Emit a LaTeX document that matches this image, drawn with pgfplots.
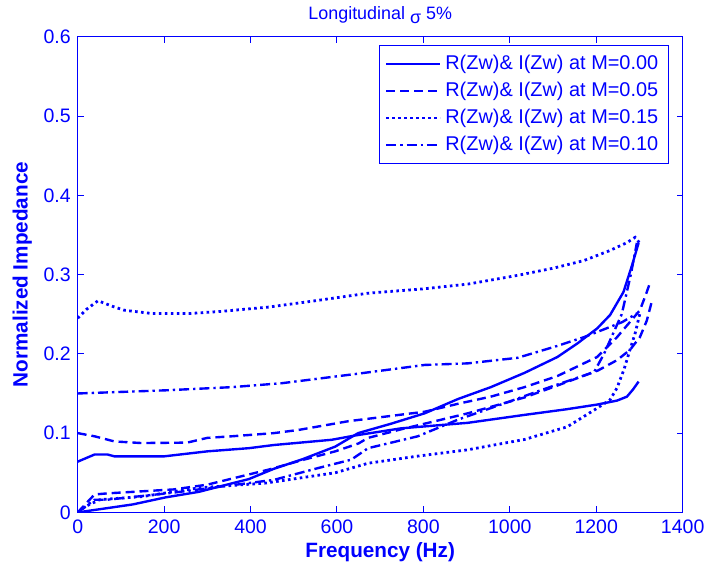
\documentclass[border=0pt]{standalone}
\usepackage{pgfplots}
\pgfplotsset{compat=1.18}
\usepackage{fontspec}
\setmainfont{Liberation Sans}
\definecolor{mblue}{RGB}{0,0,255}

\begin{document}
\begin{tikzpicture}
  \begin{axis}[
    scale only axis,
    width=304pt, height=239pt,
    xmin=0, xmax=1400, ymin=0, ymax=0.6,
    xtick={0,200,...,1400},
    ytick={0,0.1,...,0.6},
    tick align=inside,
    major tick length=3pt,
    axis line style={mblue, line width=0.7pt},
    every tick/.style={mblue, line width=0.5pt},
    ticklabel style={font=\fontsize{9.8}{10}\selectfont, text=mblue},
    /pgf/number format/assume math mode=true,
    /pgf/number format/fixed,
    /pgf/number format/1000 sep={},
    xlabel={\textbf{Frequency (Hz)}},
    ylabel={\textbf{Normalized Impedance}},
    label style={font=\fontsize{10.4}{11}\selectfont, text=mblue},
    xlabel style={yshift=2pt},
    ylabel style={yshift=-1pt},
    title={Longitudinal \raisebox{-2pt}{σ} 5\%},
    title style={font=\fontsize{9}{9}\selectfont, text=mblue, yshift=-3pt},
    legend style={at={(0.977,0.983)}, anchor=north east, draw=mblue, line width=0.6pt,
      font=\fontsize{10}{11}\selectfont, text=mblue, row sep=0.8pt, inner sep=3pt},
    legend cell align=left,
    legend image code/.code={\draw[#1, line width=1.3pt] (0pt,0pt) -- (27pt,0pt);},
    every axis plot/.append style={mblue, line width=1.2pt},
  ]
  % M = 0.00
  \addplot[solid] table {
0 0.064
39 0.073
69 0.073
85 0.0707
200 0.0707
300 0.077
396 0.081
454 0.085
588 0.0916
642 0.097
748 0.106
903 0.113
1034 0.123
1130 0.130
1202 0.136
1248 0.141
1271 0.146
1285 0.155
1298 0.165
};
  \addlegendentry{R(Zw)\& I(Zw) at M=0.00}
  % M = 0.05
  \addplot[dash pattern=on 4.5pt off 2.5pt] table {
0 0.100
39 0.096
85 0.0895
147 0.0875
253 0.088
300 0.094
357 0.096
454 0.100
511 0.104
626 0.115
700 0.120
803 0.127
880 0.137
956 0.146
1034 0.158
1110 0.172
1202 0.196
1248 0.221
1287 0.246
1301 0.255
1315 0.275
1324 0.289
};
  \addlegendentry{R(Zw)\& I(Zw) at M=0.05}
  % M = 0.15
  \addplot[dash pattern=on 1.3pt off 1.7pt, line width=1.4pt] table {
0 0.245
20 0.256
47 0.267
80 0.260
108 0.255
170 0.251
262 0.251
331 0.2535
442 0.259
550 0.267
672 0.2765
800 0.282
903 0.288
1018 0.299
1100 0.308
1171 0.3176
1230 0.330
1270 0.340
1290 0.347
1300 0.340
};
  \addlegendentry{R(Zw)\& I(Zw) at M=0.15}
  % M = 0.10
  \addplot[dash pattern=on 5pt off 2pt on 1.2pt off 2pt] table {
0 0.150
51 0.151
204 0.154
357 0.158
473 0.163
649 0.175
803 0.186
903 0.188
1018 0.195
1110 0.210
1171 0.221
1202 0.2275
1260 0.240
1294 0.251
};
  \addlegendentry{R(Zw)\& I(Zw) at M=0.10}
  % imaginary parts
  \addplot[solid, forget plot] table {
0 0
51 0.004
127 0.010
204 0.019
281 0.026
338 0.034
396 0.042
454 0.055
520 0.067
596 0.083
649 0.100
726 0.112
803 0.125
880 0.143
956 0.158
1034 0.176
1110 0.196
1156 0.213
1202 0.232
1232 0.249
1263 0.278
1283 0.312
1298 0.340
};
  \addplot[dash pattern=on 4.5pt off 2.5pt, forget plot] table {
0 0
39 0.0226
69 0.024
223 0.029
300 0.035
442 0.054
520 0.066
596 0.077
650 0.087
672 0.094
750 0.105
903 0.125
1034 0.145
1110 0.160
1204 0.179
1248 0.192
1278 0.205
1301 0.221
1317 0.242
1329 0.267
};
  \addplot[dash pattern=on 1.3pt off 1.7pt, line width=1.4pt, forget plot] table {
0 0
20 0.008
51 0.016
150 0.020
281 0.031
435 0.037
596 0.050
672 0.062
787 0.071
903 0.079
1034 0.092
1133 0.108
1195 0.129
1232 0.142
1248 0.157
1264 0.180
1278 0.205
1290 0.226
1301 0.251
};
  \addplot[dash pattern=on 5pt off 2pt on 1.2pt off 2pt, forget plot] table {
0 0
39 0.016
69 0.016
223 0.025
338 0.033
454 0.041
557 0.056
633 0.0665
672 0.081
787 0.096
880 0.117
1000 0.140
1071 0.154
1195 0.177
1218 0.200
1259 0.250
1280 0.300
1294 0.340
};
  \end{axis}
  % extra white margin as in the reference
  \path (current bounding box.south west) ++(-3pt,-4pt);
\end{tikzpicture}
\end{document}
